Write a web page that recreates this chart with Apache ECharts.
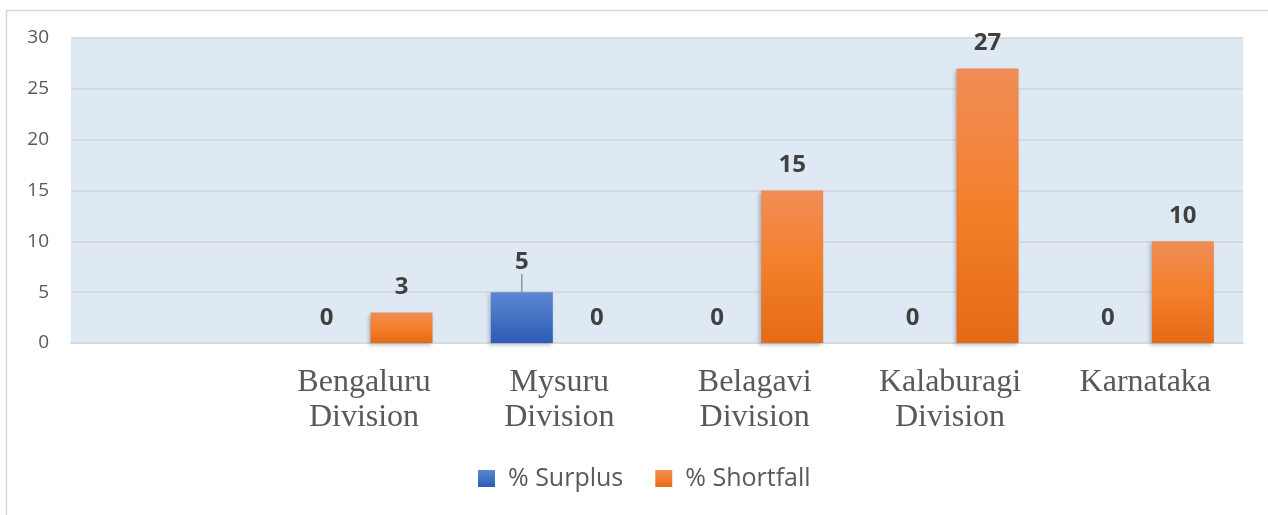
<!DOCTYPE html>
<html>
<head>
<meta charset="utf-8">
<script src="https://cdn.jsdelivr.net/npm/echarts@6/dist/echarts.min.js"></script>
<style>
  html, body { margin: 0; padding: 0; background: #fff; }
  #chart { width: 1268px; height: 515px; }
</style>
</head>
<body>
<div id="chart"></div>
<script>
// first category is empty in the source chart
var categories = ['', 'Bengaluru\nDivision', 'Mysuru\nDivision', 'Belagavi\nDivision', 'Kalaburagi\nDivision', 'Karnataka'];
var surplus = [null, 0, 5, 0, 0, 0];
var shortfall = [null, 3, 0, 15, 27, 10];
var yTicks = { min: 0, max: 30, interval: 5 };

var chart = echarts.init(document.getElementById('chart'));

function grad(top, mid, bottom) {
    return new echarts.graphic.LinearGradient(0, 0, 0, 1, [
        { offset: 0, color: top },
        { offset: 0.5, color: mid },
        { offset: 1, color: bottom }
    ]);
}

var labelStyle = {
    show: true,
    position: 'top',
    distance: 13,
    fontFamily: 'Open Sans',
    fontWeight: 'bold',
    fontSize: 24,
    color: '#404040'
};
var shadow = {
    shadowColor: 'rgba(60,70,90,0.35)',
    shadowBlur: 4,
    shadowOffsetX: -2,
    shadowOffsetY: 2
};

// only the non-zero surplus label gets a leader line
var surplusData = surplus.map(function (v) {
    if (v > 0) {
        return { value: v, labelLine: { show: true } };
    }
    return v;
});

var option = {
    backgroundColor: '#fff',
    animation: false,
    graphic: [{
        type: 'rect',
        shape: { x: 6.5, y: 10.5, width: 1300, height: 600 },
        style: { fill: 'none', stroke: '#d9d9d9', lineWidth: 1.5 },
        silent: true,
        z: -10
    }],
    grid: {
        left: 71, right: 25, top: 38, bottom: 172,
        show: true, backgroundColor: '#dee9f4', borderWidth: 0
    },
    legend: {
        top: 461,
        left: 473,
        icon: 'rect',
        itemWidth: 17,
        itemHeight: 17,
        itemGap: 32,
        textStyle: { fontFamily: 'Open Sans', fontSize: 25, color: '#595959', padding: [0, 0, 0, 8] },
        data: ['% Surplus', '% Shortfall']
    },
    xAxis: {
        type: 'category',
        data: categories,
        axisLine: { lineStyle: { color: '#d9d9d9', width: 2 } },
        axisTick: { show: false },
        axisLabel: {
            fontFamily: 'Liberation Serif',
            fontSize: 32,
            lineHeight: 35,
            color: '#595959',
            margin: 22,
            interval: 0
        }
    },
    yAxis: {
        type: 'value',
        min: yTicks.min,
        max: yTicks.max,
        interval: yTicks.interval,
        axisLine: { show: false },
        axisTick: { show: false },
        splitLine: { lineStyle: { color: '#d4d4d4', width: 1.5 } },
        axisLabel: {
            fontFamily: 'Open Sans',
            fontSize: 19,
            color: '#595959',
            margin: 22
        }
    },
    series: [{
        name: '% Surplus',
        type: 'bar',
        barWidth: 62,
        barGap: '21%',
        data: surplusData,
        itemStyle: Object.assign({ color: grad('#5d86d2', '#4472c4', '#2d5bb6') }, shadow),
        label: labelStyle,
        labelLayout: function (params) {
            if (surplus[params.dataIndex] > 0) {
                return { dy: -5 };
            }
        },
        labelLine: { show: false, lineStyle: { color: '#7f7f7f', width: 1.2 } }
    }, {
        name: '% Shortfall',
        type: 'bar',
        barWidth: 62,
        data: shortfall,
        itemStyle: Object.assign({ color: grad('#f08d57', '#f47f2a', '#e46a17') }, shadow),
        label: labelStyle
    }]
};

chart.setOption(option);
</script>
</body>
</html>
